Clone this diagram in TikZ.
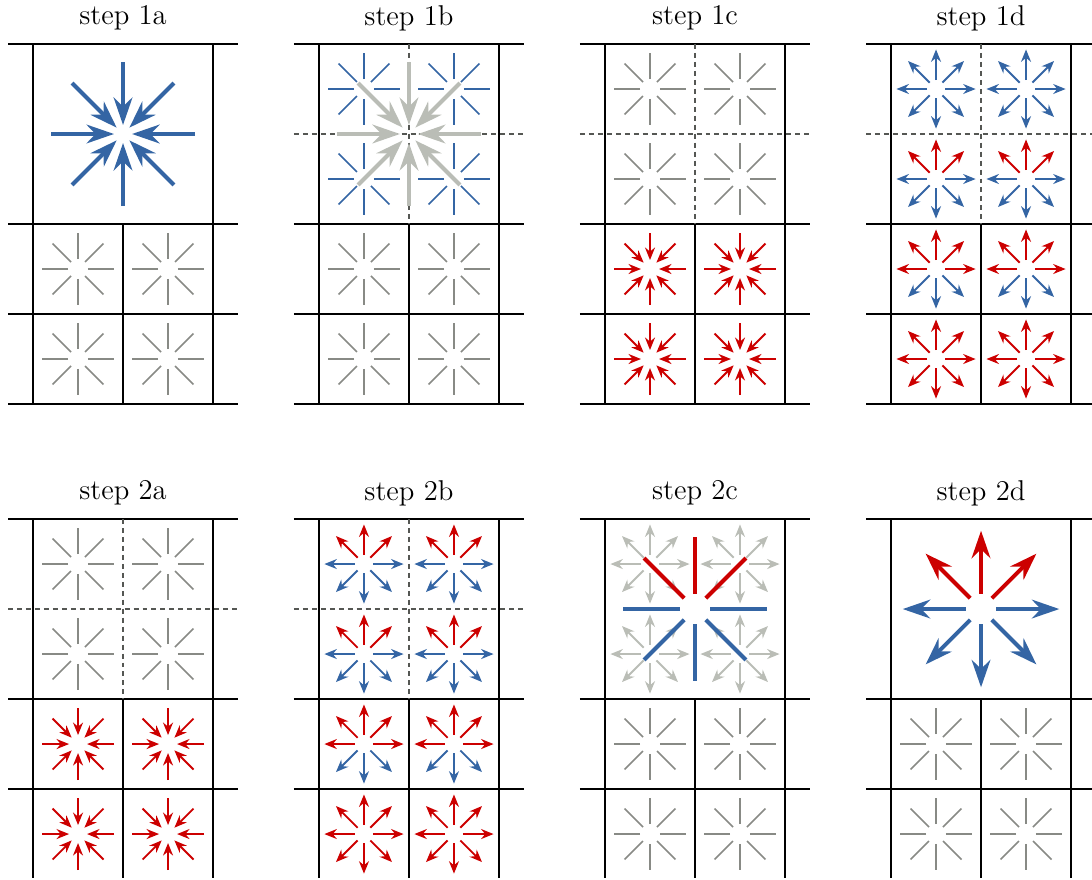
\documentclass[tikz,border=0pt]{standalone}
\usepackage{tikz}
\usetikzlibrary{arrows.meta}

\definecolor{tblue}{HTML}{3465A4}
\definecolor{tred}{HTML}{CC0000}
\definecolor{tgray}{HTML}{888A85}
\definecolor{tlight}{HTML}{BABDB6}
\definecolor{tdash}{HTML}{555753}

\tikzset{
  gridline/.style={line width=0.6pt},
  splitline/.style={tdash,line width=0.6pt,dash pattern=on 2pt off 1.6pt},
  spoke/.style={line width=0.65pt},
  ray/.style={line width=0.75pt,-{Stealth[length=5pt,width=4pt]}},
  bigray/.style={line width=1.6pt,-{Stealth[length=11pt,width=7.5pt]}},
  bigspoke/.style={line width=1.6pt},
  title/.style={font=\fontsize{11.5}{14}\selectfont}
}

% grid and title of one panel
\newcommand{\panel}[2]{%
  \foreach \y in {0,-2,-3,-4}
    \draw[gridline] (-0.278,\y) -- (2.278,\y);
  \draw[gridline] (0,0) -- (0,-4) (2,0) -- (2,-4) (1,-2) -- (1,-4);
  \node[title] (#1) at (1,0.29) {#2};}

% dashed quarters of the big cell
\newcommand{\quarters}{%
  \draw[splitline] (-0.278,-1) -- (2.278,-1) (1,0) -- (1,-2);}

% plain spokes
\newcommand{\spokes}[2]{%
  \foreach \a in {0,45,...,315}
    \draw[spoke,color=#2,shift={(#1)}] (\a:0.11) -- (\a:0.4);}

% small arrows, inwards
\newcommand{\raysin}[2]{%
  \foreach \a in {0,45,...,315}
    \draw[ray,color=#2,shift={(#1)}] (\a:0.4) -- (\a:0.1);}

% small arrows, outwards: upper, side, lower colours
\newcommand{\raysout}[4]{%
  \foreach \a/\col in {45/#2,90/#2,135/#2,0/#3,180/#3,225/#4,270/#4,315/#4}
    \draw[ray,color=\col,shift={(#1)}] (\a:0.1) -- (\a:0.44);}

% big versions on the whole cell
\newcommand{\bigin}[1]{%
  \foreach \a in {0,45,...,315}
    \draw[bigray,color=#1,shift={(1,-1)}] (\a:0.8) -- (\a:0.1);}
\newcommand{\bigout}[3]{%
  \foreach \a/\col in {45/#1,90/#1,135/#1,0/#2,180/#2,225/#3,270/#3,315/#3}
    \draw[bigray,color=\col,shift={(1,-1)}] (\a:0.17) -- (\a:0.87);}
\newcommand{\bigspokes}[3]{%
  \foreach \a/\col in {45/#1,90/#1,135/#1,0/#2,180/#2,225/#3,270/#3,315/#3}
    \draw[bigspoke,color=\col,shift={(1,-1)}] (\a:0.17) -- (\a:0.8);}

\begin{document}
\begin{tikzpicture}[x=1.27cm,y=1.27cm]
  \useasboundingbox (0,0) rectangle (12.133,-9.767);
  \clip (0,0) rectangle (12.133,-9.745);

  % step 1a
  \begin{scope}[shift={(0.367,-0.489)}]
    \panel{t1a}{step 1a}
    \bigin{tblue}
    \foreach \x/\y in {0.5/-2.5,1.5/-2.5,0.5/-3.5,1.5/-3.5}
      {\spokes{\x,\y}{tgray}}
  \end{scope}

  % step 1b
  \begin{scope}[shift={(3.544,-0.489)}]
    \panel{t1b}{step 1b}
    \quarters
    \foreach \x/\y in {0.5/-0.5,1.5/-0.5,0.5/-1.5,1.5/-1.5}
      {\spokes{\x,\y}{tblue}}
    \bigin{tlight}
    \foreach \x/\y in {0.5/-2.5,1.5/-2.5,0.5/-3.5,1.5/-3.5}
      {\spokes{\x,\y}{tgray}}
  \end{scope}

  % step 1c
  \begin{scope}[shift={(6.722,-0.489)}]
    \panel{t1c}{step 1c}
    \quarters
    \foreach \x/\y in {0.5/-0.5,1.5/-0.5,0.5/-1.5,1.5/-1.5}
      {\spokes{\x,\y}{tgray}}
    \foreach \x/\y in {0.5/-2.5,1.5/-2.5,0.5/-3.5,1.5/-3.5}
      {\raysin{\x,\y}{tred}}
  \end{scope}

  % step 1d
  \begin{scope}[shift={(9.9,-0.489)}]
    \panel{t1d}{step 1d}
    \quarters
    \foreach \x in {0.5,1.5}
      {\raysout{\x,-0.5}{tblue}{tblue}{tblue}
       \raysout{\x,-1.5}{tred}{tblue}{tblue}
       \raysout{\x,-2.5}{tred}{tred}{tblue}
       \raysout{\x,-3.5}{tred}{tred}{tred}}
  \end{scope}

  % step 2a
  \begin{scope}[shift={(0.367,-5.767)}]
    \panel{t2a}{step 2a}
    \quarters
    \foreach \x/\y in {0.5/-0.5,1.5/-0.5,0.5/-1.5,1.5/-1.5}
      {\spokes{\x,\y}{tgray}}
    \foreach \x/\y in {0.5/-2.5,1.5/-2.5,0.5/-3.5,1.5/-3.5}
      {\raysin{\x,\y}{tred}}
  \end{scope}

  % step 2b
  \begin{scope}[shift={(3.544,-5.767)}]
    \panel{t2b}{step 2b}
    \quarters
    \foreach \x in {0.5,1.5}
      {\raysout{\x,-0.5}{tred}{tblue}{tblue}
       \raysout{\x,-1.5}{tred}{tblue}{tblue}
       \raysout{\x,-2.5}{tred}{tred}{tblue}
       \raysout{\x,-3.5}{tred}{tred}{tred}}
  \end{scope}

  % step 2c
  \begin{scope}[shift={(6.722,-5.767)}]
    \panel{t2c}{step 2c}
    \foreach \x/\y in {0.5/-0.5,1.5/-0.5,0.5/-1.5,1.5/-1.5}
      {\raysout{\x,\y}{tlight}{tlight}{tlight}}
    \bigspokes{tred}{tblue}{tblue}
    \foreach \x/\y in {0.5/-2.5,1.5/-2.5,0.5/-3.5,1.5/-3.5}
      {\spokes{\x,\y}{tgray}}
  \end{scope}

  % step 2d
  \begin{scope}[shift={(9.9,-5.767)}]
    \panel{t2d}{step 2d}
    \bigout{tred}{tblue}{tblue}
    \foreach \x/\y in {0.5/-2.5,1.5/-2.5,0.5/-3.5,1.5/-3.5}
      {\spokes{\x,\y}{tgray}}
  \end{scope}
\end{tikzpicture}
\end{document}
